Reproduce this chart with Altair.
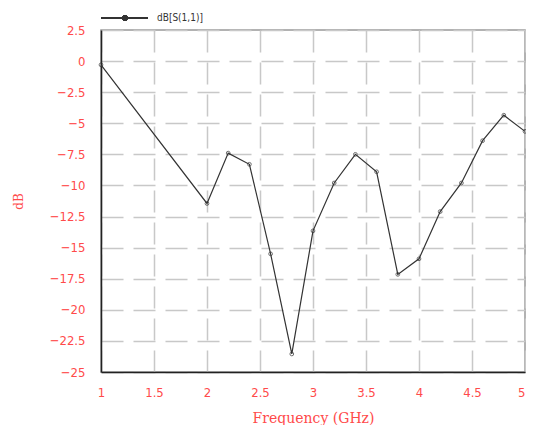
import altair as alt
import pandas as pd

freq = [1.0, 2.0, 2.2, 2.4, 2.6, 2.8, 3.0, 3.2, 3.4, 3.6, 3.8, 4.0, 4.2, 4.4, 4.6, 4.8, 5.0]
db = [-0.3, -11.45, -7.4, -8.3, -15.5, -23.55, -13.65, -9.8, -7.5, -8.9, -17.15, -15.9, -12.1, -9.8, -6.4, -4.35, -5.65]
x_ticks = [1, 1.5, 2, 2.5, 3, 3.5, 4, 4.5, 5]
y_ticks = [2.5, 0, -2.5, -5, -7.5, -10, -12.5, -15, -17.5, -20, -22.5, -25]
series_name = "dB[S(1,1)]"

df = pd.DataFrame({"f": freq, "db": db})

RED = "#ff4a4a"
GRID = "#c8c8c8"

x = alt.X("f:Q", scale=alt.Scale(domain=[1, 5], nice=False, zero=False),
          axis=alt.Axis(values=x_ticks, title="Frequency (GHz)", format=".1~f",
                        grid=True, gridDash=[22, 10], gridColor=GRID, gridWidth=1.5,
                        ticks=False, domainColor="#222", domainWidth=1.5,
                        labelColor=RED, labelFont="DejaVu Sans Condensed", labelFontSize=13,
                        labelPadding=14, labelFlush=False, labelOverlap=False,
                        labelAlign=alt.ExprRef(expr="datum.value == 5 ? 'right' : 'center'"),
                        titleColor=RED, titleFont="DejaVu Serif", titleFontSize=14,
                        titleFontWeight="normal", titlePadding=12))
y = alt.Y("db:Q", scale=alt.Scale(domain=[-25, 2.5], nice=False, zero=False),
          axis=alt.Axis(values=y_ticks, title="dB", format=".1~f",
                        grid=True, gridDash=[22, 10], gridColor=GRID, gridWidth=1.5,
                        ticks=False, domainColor="#222", domainWidth=1.5,
                        labelColor=RED, labelFont="DejaVu Sans Condensed", labelFontSize=13,
                        labelPadding=16, labelOverlap=False, labelSeparation=0,
                        titleColor=RED, titleFont="DejaVu Serif", titleFontSize=12,
                        titleFontWeight="normal", titleX=-76))

line = alt.Chart(df).mark_line(color="#333", strokeWidth=1.2).encode(x=x, y=y)
pts = alt.Chart(df).mark_point(color="#333", size=14, strokeWidth=1, filled=False).encode(x=x, y=y)

leg_line = alt.Chart(df).mark_rule(color="#333", strokeWidth=1.2).encode(
    x=alt.value(0), x2=alt.value(47), y=alt.value(-12))
leg_pt = alt.Chart(df).mark_point(color="#333", size=12, filled=False).encode(
    x=alt.value(24), y=alt.value(-12))
leg_txt = alt.Chart(pd.DataFrame({"t": [series_name]})).mark_text(
    align="left", baseline="middle", color="#333", font="DejaVu Sans Condensed", fontSize=10
).encode(x=alt.value(56), y=alt.value(-12), text="t:N")

chart = alt.layer(line, pts, leg_line, leg_pt, leg_txt).properties(
    width=424, height=342,
    autosize=alt.AutoSizeParams(type="none"),
    padding={"left": 93, "top": 22, "right": 1, "bottom": 53},
    background="white",
).configure_view(stroke="#999", strokeWidth=1.5)

chart.save("out.html", embed_options={"renderer": "svg", "actions": False})
